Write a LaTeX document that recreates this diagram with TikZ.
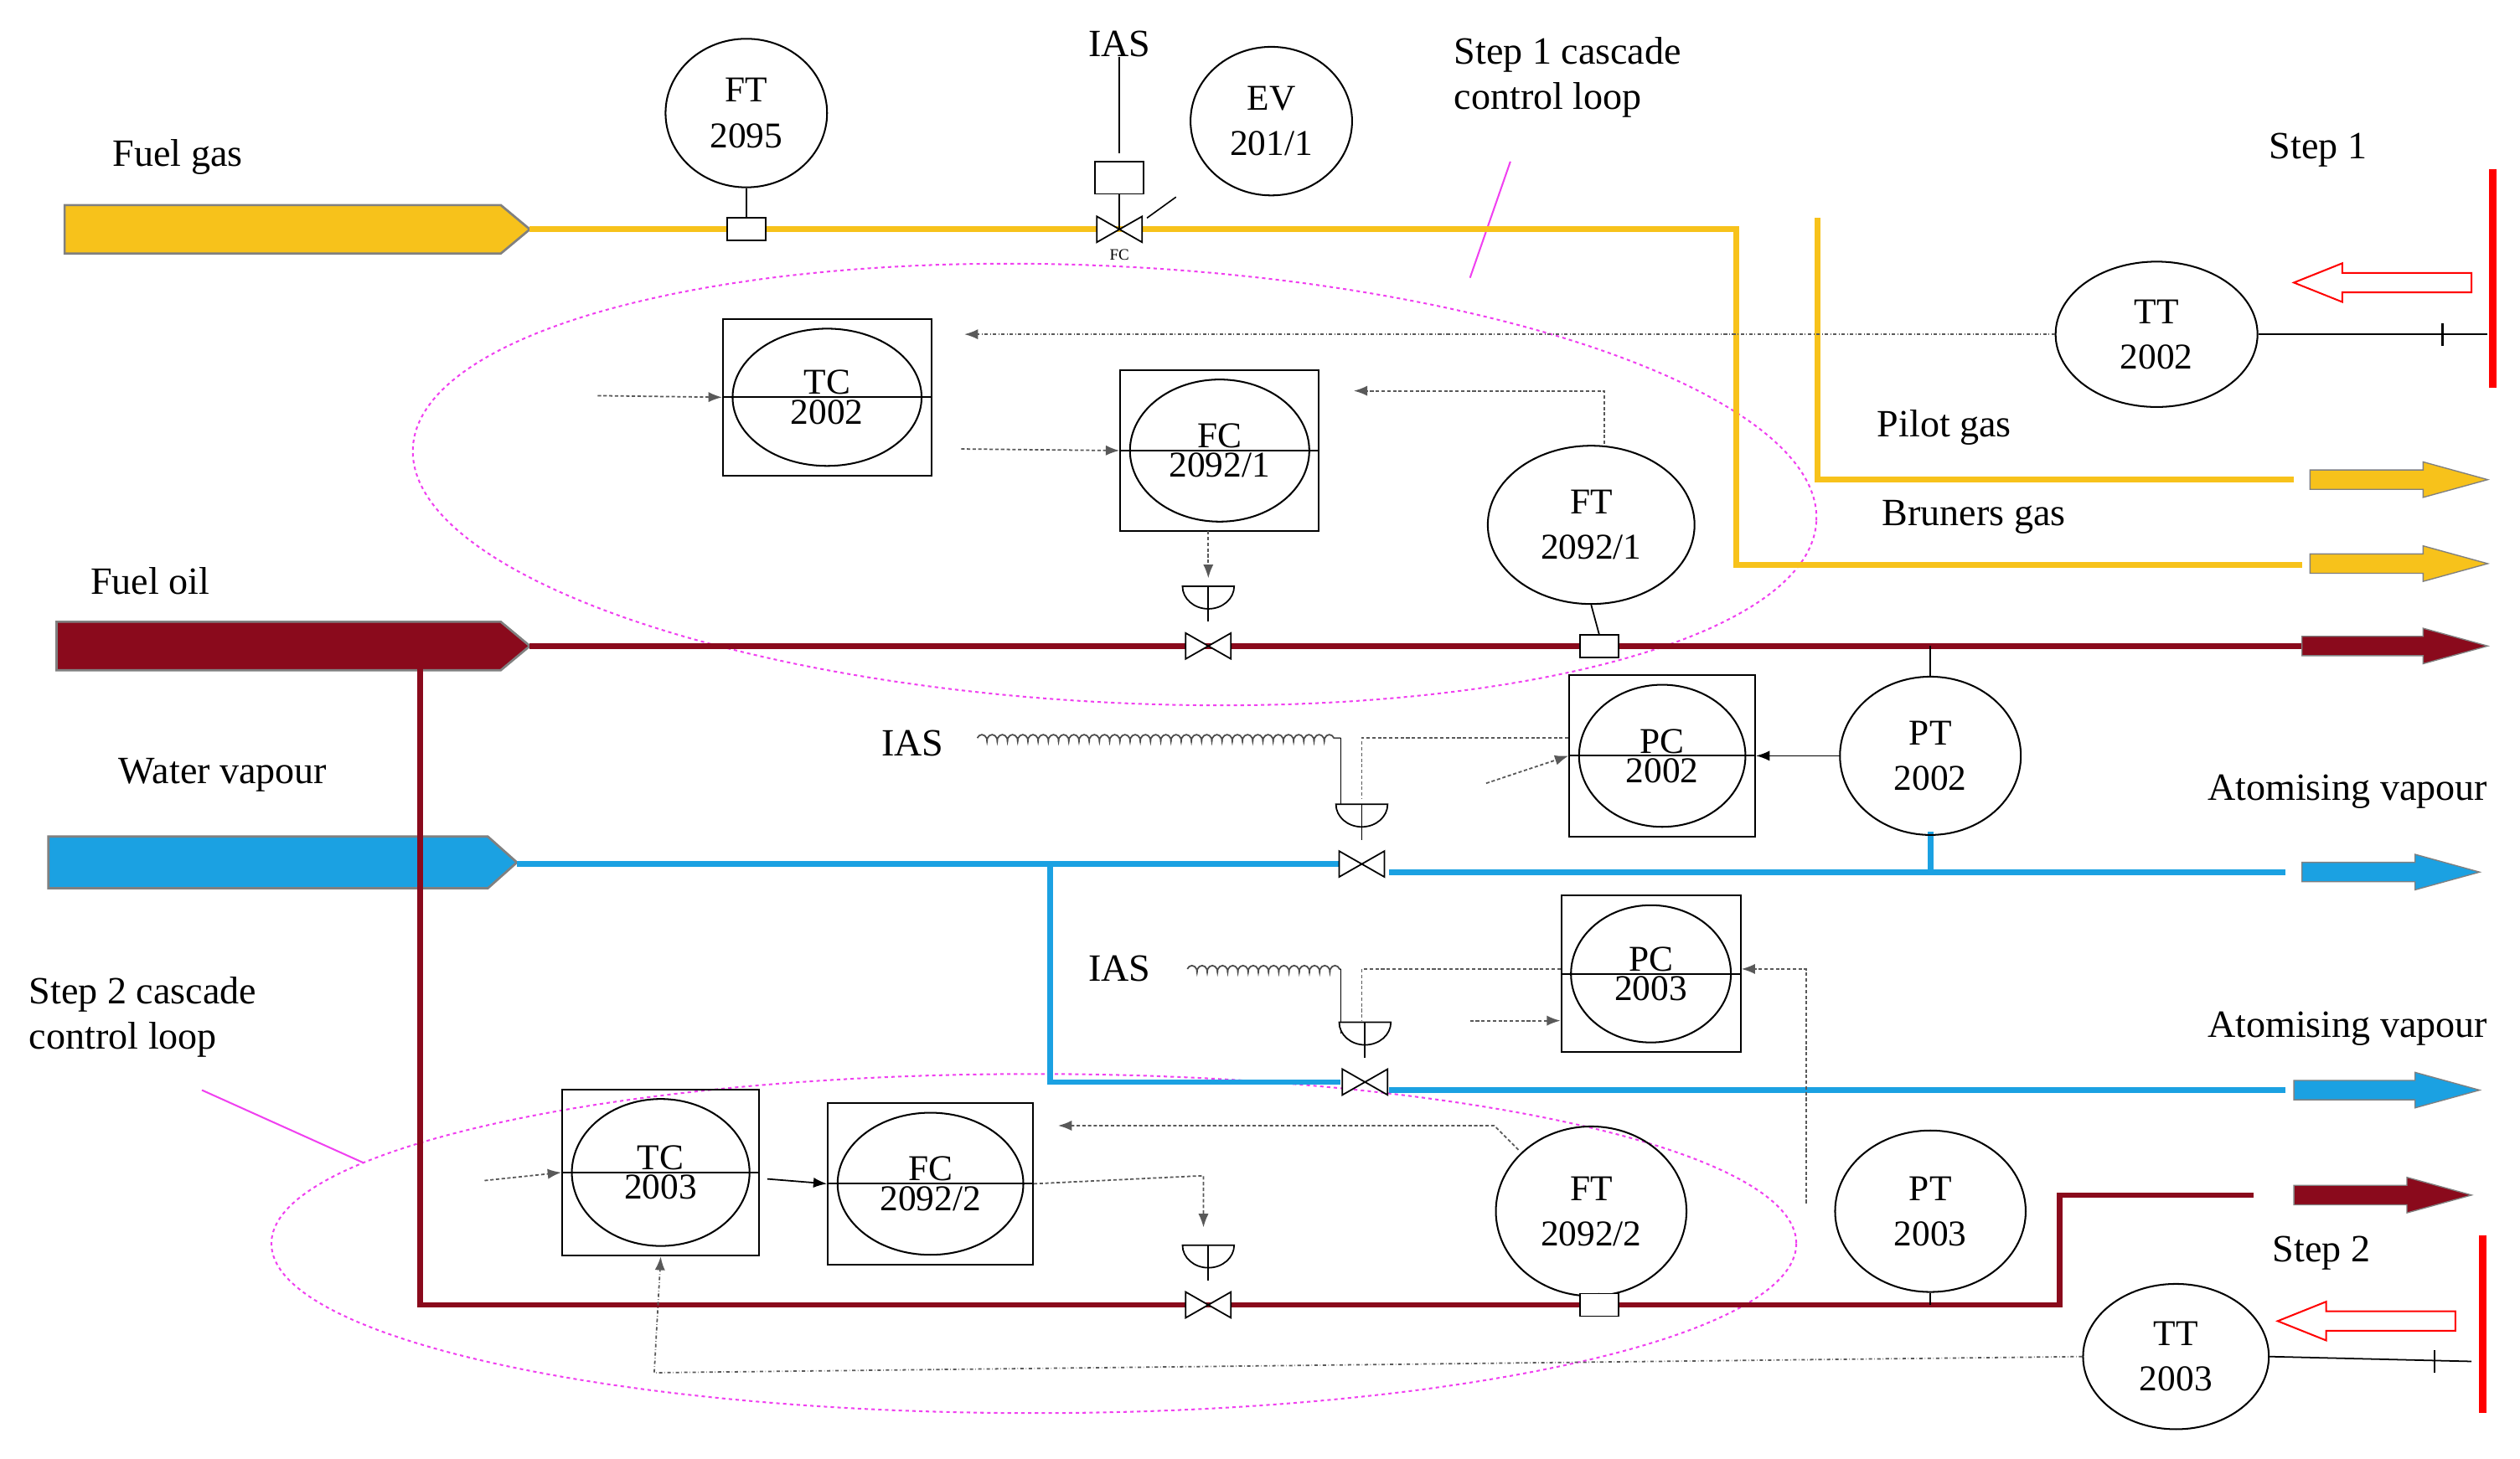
\documentclass[tikz,border=0pt]{standalone}
\usepackage{fontspec}
\setmainfont{Liberation Serif}
\usetikzlibrary{arrows.meta,decorations.pathmorphing,shapes.geometric}
\definecolor{yel}{HTML}{F7C21B}
\definecolor{oil}{HTML}{8A0A1C}
\definecolor{blu}{HTML}{1BA1E2}
\definecolor{mag}{HTML}{F040F0}
\tikzset{
  pics/valve/.style={code={\draw[line width=1.3pt,fill=white] (-14,-8)--(-14,8)--(14,-8)--(14,8)--cycle;}},
  pics/act/.style={code={\draw[line width=1.3pt,fill=white] (-16,-22) arc(180:0:16 and 14)--cycle; \draw[line width=1.3pt](0,-22)--(0,0);}}
}
\begin{document}
\begin{tikzpicture}[x=0.05cm,y=-0.05cm,
  txt/.style={font=\fontsize{34}{40}\selectfont,inner sep=0pt},
  inst/.style={draw,ellipse,line width=1.5pt,minimum width=100*0.05cm,minimum height=92*0.05cm,align=center,font=\fontsize{32}{40}\selectfont,inner sep=0pt},
  yl/.style={yel,line width=5pt},
  rl/.style={oil,line width=5pt},
  bl/.style={blu,line width=5pt},
  sig/.style={densely dashed,gray!70!black,line width=1.3pt},
  dd/.style={dash dot,gray!70!black,line width=1.3pt},
  ar/.style={-{Latex[length=12pt,width=9pt]}},
  loop/.style={dashed,mag,line width=1.5pt},
  wav/.style={decorate,decoration={coil,aspect=0.6,segment length=9pt,amplitude=3pt},line width=1.3pt,gray!60!black}
]
\useasboundingbox (0,0) rectangle (1560,903);
\fill[white] (0,0) rectangle (1560,903);
% loops
\draw[loop,rotate around={-3:(690,300)}] (690,300) ellipse (435 and 135);
\draw[loop] (640,770) ellipse (472 and 105);
\draw[mag,line width=1.5pt] (935,100)--(910,172);
\draw[mag,line width=1.5pt] (125,675)--(225,720);
% inlet arrows
\draw[gray,line width=2pt,fill=yel] (40,127)--(310,127)--(328,142)--(310,157)--(40,157)--cycle;
\draw[gray,line width=2pt,fill=oil] (35,385)--(310,385)--(328,400)--(310,415)--(35,415)--cycle;
\draw[gray,line width=2pt,fill=blu] (30,518)--(302,518)--(320,534)--(302,550)--(30,550)--cycle;
% fuel gas lines
\draw[yl] (328,142)--(1075,142)--(1075,350)--(1425,350);
\draw[yl] (1125,135)--(1125,297)--(1420,297);
\foreach \y in {297,349}{\draw[gray,line width=1pt,fill=yel] (1430,\y-6)--(1500,\y-6)--(1500,\y-11)--(1540,\y)--(1500,\y+11)--(1500,\y+6)--(1430,\y+6)--cycle;}
% fuel oil
\draw[rl] (328,400)--(1425,400);
\draw[rl] (260,400)--(260,808)--(1275,808)--(1275,740)--(1395,740);
\foreach \y/\a/\b in {400/1425/1540,740/1420/1530}{\draw[gray,line width=1pt,fill=oil] (\a,\y-6)--(\b-40,\y-6)--(\b-40,\y-11)--(\b,\y)--(\b-40,\y+11)--(\b-40,\y+6)--(\a,\y+6)--cycle;}
% vapour
\draw[bl] (320,535)--(830,535); \draw[bl] (860,540)--(1415,540);
\draw[bl] (650,535)--(650,670)--(830,670); \draw[bl] (860,675)--(1415,675);
\draw[bl] (1195,540)--(1195,515);
\foreach \y/\a/\b in {540/1425/1535,675/1420/1535}{\draw[gray,line width=1pt,fill=blu] (\a,\y-6)--(\b-40,\y-6)--(\b-40,\y-11)--(\b,\y)--(\b-40,\y+11)--(\b-40,\y+6)--(\a,\y+6)--cycle;}
% labels
\node[txt] at (110,97) {Fuel gas};
\node[txt] at (93,360) {Fuel oil};
\node[txt] at (138,480) {Water vapour};
\node[txt,align=left,anchor=west] at (900,48) {Step 1 cascade\\control loop};
\node[txt,align=left,anchor=west] at (18,630) {Step 2 cascade\\control loop};
\node[txt] at (1435,93) {Step 1};
\node[txt] at (1437,776) {Step 2};
\node[txt,anchor=west] at (1162,265) {Pilot gas};
\node[txt,anchor=west] at (1165,320) {Bruners gas};
\node[txt,anchor=east] at (1540,490) {Atomising vapour};
\node[txt,anchor=east] at (1540,637) {Atomising vapour};
% instruments
\node[inst] (ft2095) at (462,70) {FT\\2095};
\node[inst] (ev) at (787,75) {EV\\201/1};
\node[txt] (ias1) at (693,27) {IAS};
\node[txt] (ias2) at (565,460) {IAS};
\node[txt] (ias3) at (693,600) {IAS};
\node[inst,minimum width=125*0.05cm,minimum height=90*0.05cm] (tt2) at (1335,207) {TT\\2002};
\node[inst,minimum width=115*0.05cm,minimum height=90*0.05cm] (tt3) at (1347,840) {TT\\2003};
\node[inst,minimum width=128*0.05cm,minimum height=98*0.05cm] (ft1) at (985,325) {FT\\2092/1};
\node[inst,minimum width=118*0.05cm,minimum height=105*0.05cm] (ft2) at (985,750) {FT\\2092/2};
\node[inst,minimum width=112*0.05cm,minimum height=98*0.05cm] (pt2) at (1195,468) {PT\\2002};
\node[inst,minimum width=118*0.05cm,minimum height=100*0.05cm] (pt3) at (1195,750) {PT\\2003};
\foreach \n/\x/\y/\w/\h/\a/\b in {tc2/512/246/129/97/TC/2002, fc1/755/279/123/100/FC/2092\slash 1, pc2/1029/468/115/100/PC/2002, pc3/1022/603/111/97/PC/2003, tc3/409/726/122/103/TC/2003, fc2/576/733/127/100/FC/2092\slash 2}{
  \node[draw,line width=1.5pt,minimum width=\w*0.05cm,minimum height=\h*0.05cm] (\n) at (\x,\y) {};
  \draw[line width=1.5pt] (\x,\y) ellipse (\w/2-6 and \h/2-6);
  \draw[line width=1.5pt] (\x-\w/2,\y)--(\x+\w/2,\y);
  \node[font=\fontsize{32}{40}\selectfont,anchor=south,inner sep=2pt] at (\x,\y) {\a};
  \node[font=\fontsize{32}{40}\selectfont,anchor=north,inner sep=2pt] at (\x,\y) {\b};
}
% FT2095 sensor and valve on fuel gas
\draw[line width=1.3pt] (ft2095.south)--(462,135);
\draw[line width=1.3pt,fill=white] (450,135) rectangle (474,149);
\draw[line width=1.3pt] (ias1.south)--(693,95);
\draw[line width=1.3pt,fill=white] (678,100) rectangle (708,120);
\draw[line width=1.3pt] (693,120)--(693,142);
\pic at (693,142) {valve};
\draw[line width=1.2pt] (710,135)--(728,122);
\node[font=\fontsize{14}{16}\selectfont] at (693,158) {FC};
% step1 control
\draw[dd,ar] (tt2.west)--(597,207);
\draw[line width=1.3pt] (tt2.east)--(1540,207); \draw[line width=1.5pt] (1512,200)--(1512,214);
\draw[red,line width=7pt] (1543,105)--(1543,240);
\draw[red,line width=1.5pt,fill=white] (1530,169)--(1450,169)--(1450,163)--(1420,175)--(1450,187)--(1450,181)--(1530,181)--cycle;
\draw[sig,ar] (370,245)--(tc2.west);
\draw[sig,ar] (595,278)--(fc1.west);
\draw[sig,ar] (993,275)--(993,242)--(838,242);
\draw[line width=1.3pt] (ft1.south)--(990,393);
\draw[line width=1.3pt,fill=white] (978,393) rectangle (1002,407);
\draw[sig,ar] (748,329)--(748,358);
\pic at (748,400) {valve}; \pic at (748,385) {act};
% PC2002 loop
\draw[line width=1.3pt] (pt2.north)--(1195,400);
\draw[line width=1.3pt,ar] (pt2.west)--(pc2.east);
\draw[sig,ar] (920,485)--(pc2.west);
\draw[wav] (605,457)--(830,457);
\draw[line width=1.3pt] (830,457)--(830,500);
\draw[sig] (pc2.west |- 457,457)--(843,457)--(843,495);
\pic at (843,535) {valve}; \pic at (843,520) {act};
% PC2003 loop
\draw[sig,ar] (1118,745)--(1118,600)--(pc3.east |- 600,600);
\draw[sig,ar] (910,632)--(pc3.west |- 632,632);
\draw[wav] (735,600)--(830,600);
\draw[line width=1.3pt] (830,600)--(830,640);
\draw[sig] (pc3.west |- 600,600)--(843,600)--(843,632);
\pic at (845,670) {valve}; \pic at (845,655) {act};
\draw[line width=1.3pt] (pt3.south)--(1195,808);
% step 2
\draw[sig,ar] (300,731)--(tc3.west);
\draw[line width=1.3pt,ar] (475,730)--(fc2.west);
\draw[sig,ar] (fc2.east)--(745,728)--(745,760);
\pic at (748,808) {valve}; \pic at (748,793) {act};
\draw[sig,ar] (940,712)--(925,697)--(655,697);
\draw[line width=1.3pt] (ft2.south)--(990,801);
\draw[line width=1.3pt,fill=white] (978,801) rectangle (1002,815);
\draw[dd,ar] (tt3.west)--(405,850)--(tc3.south);
\draw[line width=1.3pt] (tt3.east)--(1530,843); \draw[line width=1.5pt] (1507,836)--(1507,850);
\draw[red,line width=7pt] (1537,765)--(1537,875);
\draw[red,line width=1.5pt,fill=white] (1520,812)--(1440,812)--(1440,806)--(1410,818)--(1440,830)--(1440,824)--(1520,824)--cycle;
\end{tikzpicture}
\end{document}
